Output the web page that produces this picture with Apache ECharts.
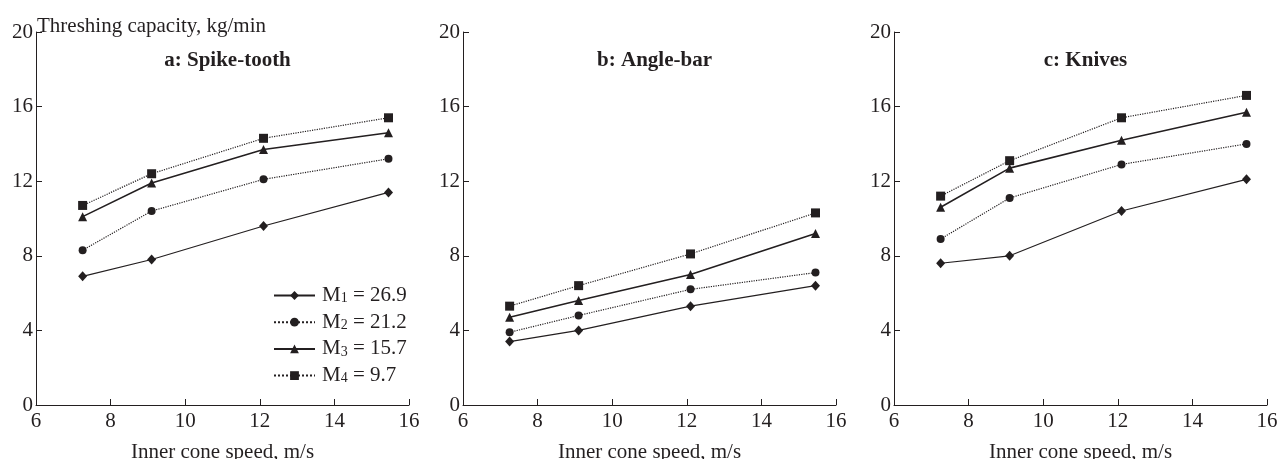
<!DOCTYPE html>
<html>
<head>
<meta charset="utf-8">
<script src="https://cdn.jsdelivr.net/npm/echarts@6/dist/echarts.min.js"></script>
<style>
  html, body { margin: 0; padding: 0; background: #fff; }
  #chart { width: 1277px; height: 459px; }
</style>
</head>
<body>
<div id="chart"></div>
<script>
// inner cone speed, m/s
const speeds = [7.25, 9.1, 12.1, 15.45];
const seriesNames = ["M1", "M2", "M3", "M4"];
const legendValues = ["26.9", "21.2", "15.7", "9.7"];
const panelTitles = ["a: Spike-tooth", "b: Angle-bar", "c: Knives"];

// threshing capacity, kg/min  (rows: M1..M4)
const spikeTooth = [
  [6.9, 7.8, 9.6, 11.4],
  [8.3, 10.4, 12.1, 13.2],
  [10.1, 11.9, 13.7, 14.6],
  [10.7, 12.4, 14.3, 15.4]
];
const angleBar = [
  [3.4, 4.0, 5.3, 6.4],
  [3.9, 4.8, 6.2, 7.1],
  [4.7, 5.6, 7.0, 9.2],
  [5.3, 6.4, 8.1, 10.3]
];
const knives = [
  [7.6, 8.0, 10.4, 12.1],
  [8.9, 11.1, 12.9, 14.0],
  [10.6, 12.7, 14.2, 15.7],
  [11.2, 13.1, 15.4, 16.6]
];

const xTicks = [6, 8, 10, 12, 14, 16];
const yTicks = [0, 4, 8, 12, 16, 20];

const ink = "#231f20";
const font = "Liberation Serif";
const fs = 21;

const panels = [spikeTooth, angleBar, knives];
const gridLefts = [36, 463, 894];
const plotWidth = 373;

const styles = [
  { symbol: "diamond", size: [9, 10], type: "solid", width: 1.2 },
  { symbol: "circle", size: 8, type: "dotted", width: 1.2 },
  { symbol: "triangle", size: 9, type: "solid", width: 1.6 },
  { symbol: "rect", size: 9, type: "dotted", width: 1.2 }
];

const grids = gridLefts.map(l => ({
  left: l, top: 32, width: plotWidth, height: 373,
  containLabel: false,
  outerBoundsMode: "none"
}));

const xAxes = grids.map((g, i) => ({
  gridIndex: i,
  type: "value",
  min: xTicks[0],
  max: xTicks[xTicks.length - 1],
  interval: 2,
  name: "Inner cone speed, m/s",
  nameLocation: "middle",
  nameGap: 37,
  nameTextStyle: { color: ink, fontFamily: font, fontSize: fs },
  axisLine: { lineStyle: { color: ink, width: 1 } },
  axisTick: { inside: true, length: 6, lineStyle: { color: ink } },
  axisLabel: { color: ink, fontFamily: font, fontSize: fs, margin: 6 },
  splitLine: { show: false }
}));

const yAxes = grids.map((g, i) => ({
  gridIndex: i,
  type: "value",
  min: yTicks[0],
  max: yTicks[yTicks.length - 1],
  interval: 4,
  axisLine: { show: true, lineStyle: { color: ink, width: 1 } },
  axisTick: { show: true, inside: true, length: 6, lineStyle: { color: ink } },
  axisLabel: { color: ink, fontFamily: font, fontSize: fs, margin: 3 },
  splitLine: { show: false }
}));

const series = [];
panels.forEach((rows, p) => {
  rows.forEach((vals, k) => {
    const st = styles[k];
    series.push({
      name: seriesNames[k],
      type: "line",
      xAxisIndex: p,
      yAxisIndex: p,
      data: speeds.map((x, j) => [x, vals[j]]),
      symbol: st.symbol,
      symbolSize: st.size,
      showAllSymbol: true,
      itemStyle: { color: ink },
      lineStyle: { color: ink, type: st.type, width: st.width },
      z: 2 + k,
      animation: false
    });
  });
});

const titles = panelTitles.map((t, i) => ({
  text: t,
  left: gridLefts[i] + plotWidth / 2,
  textAlign: "center",
  top: 45,
  textStyle: { color: ink, fontFamily: font, fontSize: fs, fontWeight: "bold" }
}));
titles.push({
  text: "Threshing capacity, kg/min",
  left: 32,
  top: 11,
  textStyle: { color: ink, fontFamily: font, fontSize: fs, fontWeight: "normal" }
});

const chart = echarts.init(document.getElementById("chart"), null, { renderer: "canvas" });
chart.setOption({
  backgroundColor: "#fff",
  animation: false,
  title: titles,
  grid: grids,
  xAxis: xAxes,
  yAxis: yAxes,
  legend: {
    orient: "vertical",
    left: 268,
    top: 280,
    itemWidth: 41,
    itemHeight: 11,
    itemGap: 5.7,
    data: seriesNames,
    formatter: name => {
      const k = seriesNames.indexOf(name);
      return "{m|M}{s|" + (k + 1) + "}{m| = " + legendValues[k] + "}";
    },
    textStyle: {
      color: ink,
      fontFamily: font,
      fontSize: fs,
      padding: [0, 0, 0, 2],
      rich: {
        m: { fontFamily: font, fontSize: fs, lineHeight: 20, color: ink },
        s: { fontFamily: font, fontSize: 14, lineHeight: 10, verticalAlign: "bottom", color: ink }
      }
    }
  },
  series: series
});
</script>
</body>
</html>
